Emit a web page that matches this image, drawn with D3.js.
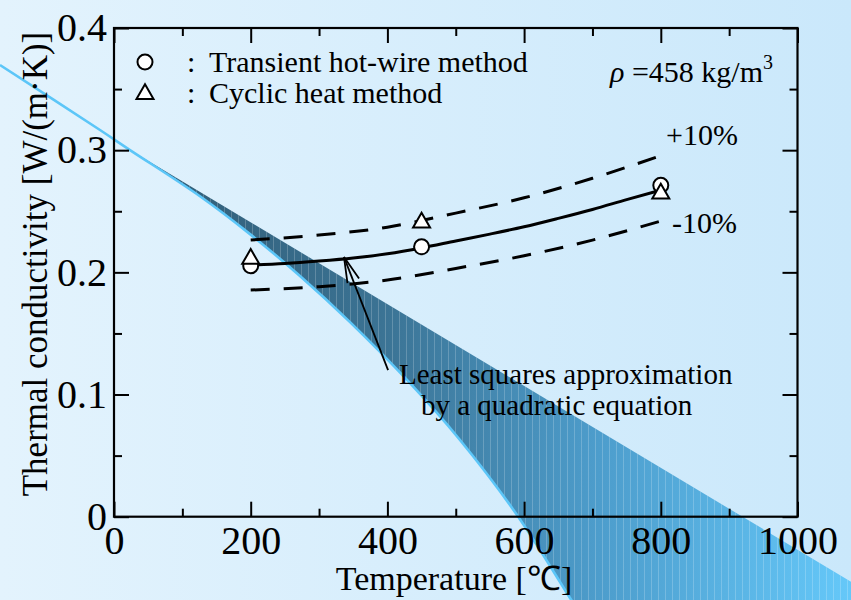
<!DOCTYPE html>
<html>
<head>
<meta charset="utf-8">
<script src="https://cdn.jsdelivr.net/npm/d3@7"></script>
<style>
  body { margin: 0; }
  svg { display: block; font-family: "Liberation Serif", "Times New Roman", serif; }
</style>
</head>
<body>
<div id="chart"></div>
<script>
/* Thermal conductivity vs temperature */

const xTicks = [0, 200, 400, 600, 800, 1000];
const yTicks = [0, 0.1, 0.2, 0.3, 0.4];

// least squares curve
const fitTemps = [200, 250, 300, 350, 400, 450, 500, 550, 600, 650, 700, 750, 800];
const fitValues = [0.2060, 0.2072, 0.2092, 0.2117, 0.2152, 0.2200, 0.2257, 0.2313, 0.2373, 0.2442, 0.2515, 0.2595, 0.2673];

// +10% / -10% band
const bandTemps = [200, 300, 400, 500, 600, 700, 800];
const plusTen = [0.2265, 0.2305, 0.2370, 0.2485, 0.2610, 0.2770, 0.2955];
const minusTen = [0.1855, 0.1883, 0.1937, 0.2032, 0.2136, 0.2264, 0.2420];

// measured points
const pointTemps = [200, 450, 800];
const hotWire = [0.2054, 0.2209, 0.2713];
const cyclicHeat = [0.2110, 0.2407, 0.2645];

// decorative stripe behind the plot (in data units)
const stripeTop = [[23.4, 0.3001], [1150, -0.0772]];
const stripeBottom = [[-166.8, 0.3697], [-20.5, 0.3165], [23.4, 0.3001], [125.8, 0.2623], [199, 0.2313],
                      [272.1, 0.1970], [345.3, 0.1593], [428.7, 0.1119], [506.2, 0.0628], [589.6, 0.0014],
                      [667.2, -0.0665], [705, -0.1]];

const width = 851,
      height = 600;

let svg = d3.select("#chart")
    .append("svg")
    .attr("width", width)
    .attr("height", height);

let defs = svg.append("defs");

let bg = defs.append("linearGradient").attr("id", "bg")
    .attr("x1", 0).attr("x2", 1).attr("y1", 0).attr("y2", 0);
bg.append("stop").attr("offset", 0).attr("stop-color", "#e3f3fd");
bg.append("stop").attr("offset", 1).attr("stop-color", "#cae8fb");

let band = defs.append("linearGradient").attr("id", "band")
    .attr("gradientUnits", "userSpaceOnUse")
    .attr("x1", 130).attr("x2", 851).attr("y1", 0).attr("y2", 0);
band.append("stop").attr("offset", 0).attr("stop-color", "#2f5a73");
band.append("stop").attr("offset", 0.35).attr("stop-color", "#3b7394");
band.append("stop").attr("offset", 0.65).attr("stop-color", "#4d9dcc");
band.append("stop").attr("offset", 1).attr("stop-color", "#65c8f9");

let stripes = defs.append("pattern").attr("id", "vlines")
    .attr("patternUnits", "userSpaceOnUse")
    .attr("width", 7).attr("height", 10);
stripes.append("rect").attr("width", 1).attr("height", 10).attr("fill", "#ffffff").attr("opacity", 0.2);

let arrowHead = defs.append("marker").attr("id", "arrow")
    .attr("markerUnits", "userSpaceOnUse")
    .attr("viewBox", "-30 -10 32 20")
    .attr("refX", 0).attr("refY", 0)
    .attr("markerWidth", 32).attr("markerHeight", 20)
    .attr("orient", "auto");
arrowHead.append("path")
    .attr("d", "M-25.5,-6.2 L0,0 L-25.5,6.2")
    .attr("fill", "none")
    .attr("stroke", "black")
    .attr("stroke-width", 1.8);

svg.append("rect")
    .attr("width", width).attr("height", height)
    .attr("fill", "url(#bg)");

let x = d3.scaleLinear()
    .domain([0, 1000])
    .range([114, 797.5]);

let y = d3.scaleLinear()
    .domain([0, 0.4])
    .range([516.7, 28]);

/* background stripe */
let bottomCurve = d3.line()
    .x(d => x(d[0]))
    .y(d => y(d[1]))
    .curve(d3.curveCatmullRom);

let inner = stripeBottom.filter(d => d[0] >= 23.4).slice().reverse();
let bandPath = "M" + x(stripeTop[0][0]) + "," + y(stripeTop[0][1])
    + "L" + x(stripeTop[1][0]) + "," + y(stripeTop[1][1])
    + "L" + x(stripeTop[1][0]) + "," + y(-0.1)
    + bottomCurve(inner).replace(/^M/, "L") + "Z";

svg.append("path")
    .attr("d", bandPath)
    .attr("fill", "url(#band)");

svg.append("path")
    .attr("d", bandPath)
    .attr("fill", "url(#vlines)");

svg.append("path")
    .attr("d", bottomCurve(stripeBottom))
    .attr("fill", "none")
    .attr("stroke", "#5cc6f8")
    .attr("stroke-width", 2.6);

/* axes */
const majorX = 15, minorX = 8;
const minorXTicks = d3.range(100, 1000, 200);
const minorYTicks = [0.05, 0.15, 0.25, 0.35];

function styleAxis(g) {
    g.selectAll("path").remove();
    g.selectAll("line").attr("stroke", "black").attr("stroke-width", 2);
}

svg.append("g")
    .attr("transform", `translate(0,${y(0)})`)
    .call(d3.axisBottom(x).tickValues(xTicks).tickSize(-majorX).tickPadding(9)
        .tickFormat(d => d))
    .call(styleAxis)
    .call(g => g.selectAll("text").attr("font-size", 40).attr("fill", "black")
        .attr("font-family", "Liberation Serif"));

svg.append("g")
    .attr("transform", `translate(0,${y(0)})`)
    .call(d3.axisBottom(x).tickValues(minorXTicks).tickSize(-minorX).tickFormat(""))
    .call(styleAxis);

svg.append("g")
    .attr("transform", `translate(0,${y(0.4)})`)
    .call(d3.axisTop(x).tickValues(xTicks).tickSize(-majorX).tickFormat(""))
    .call(styleAxis);

svg.append("g")
    .attr("transform", `translate(0,${y(0.4)})`)
    .call(d3.axisTop(x).tickValues(minorXTicks).tickSize(-minorX).tickFormat(""))
    .call(styleAxis);

svg.append("g")
    .attr("transform", `translate(${x(0)},0)`)
    .call(d3.axisLeft(y).tickValues(yTicks).tickSize(-majorX).tickPadding(7)
        .tickFormat(d => d === 0 ? "0" : d3.format(".1f")(d)))
    .call(styleAxis)
    .call(g => g.selectAll("text").attr("font-size", 40).attr("fill", "black")
        .attr("font-family", "Liberation Serif"));

svg.append("g")
    .attr("transform", `translate(${x(0)},0)`)
    .call(d3.axisLeft(y).tickValues(minorYTicks).tickSize(-minorX).tickFormat(""))
    .call(styleAxis);

svg.append("g")
    .attr("transform", `translate(${x(1000)},0)`)
    .call(d3.axisRight(y).tickValues(yTicks).tickSize(-majorX).tickFormat(""))
    .call(styleAxis);

svg.append("g")
    .attr("transform", `translate(${x(1000)},0)`)
    .call(d3.axisRight(y).tickValues(minorYTicks).tickSize(-minorX).tickFormat(""))
    .call(styleAxis);

svg.append("rect") // frame
    .attr("x", x(0)).attr("y", y(0.4))
    .attr("width", x(1000) - x(0)).attr("height", y(0) - y(0.4))
    .attr("fill", "none")
    .attr("stroke", "black")
    .attr("stroke-width", 2.2);

/* axis titles */
svg.append("text")
    .attr("x", 454).attr("y", 590)
    .attr("text-anchor", "middle")
    .attr("font-size", 34)
    .text("Temperature [℃]");

svg.append("text")
    .attr("transform", "translate(47,264) rotate(-90)")
    .attr("text-anchor", "middle")
    .attr("font-size", 35)
    .text("Thermal conductivity [W/(m·K)]");

/* curves */
let fitLine = d3.line()
    .x((d, i) => x(fitTemps[i]))
    .y(d => y(d))
    .curve(d3.curveMonotoneX);

let bandLine = d3.line()
    .x((d, i) => x(bandTemps[i]))
    .y(d => y(d))
    .curve(d3.curveMonotoneX);

for (let s of [plusTen, minusTen]) {
    svg.append("path")
        .attr("d", bandLine(s))
        .attr("fill", "none")
        .attr("stroke", "black")
        .attr("stroke-width", 3)
        .attr("stroke-dasharray", "19,14");
}

svg.append("path")
    .attr("d", fitLine(fitValues))
    .attr("fill", "none")
    .attr("stroke", "black")
    .attr("stroke-width", 3);

/* points */
svg.selectAll(".hw")
    .data(hotWire)
    .join("circle")
    .attr("class", "hw")
    .attr("cx", (d, i) => x(pointTemps[i]))
    .attr("cy", d => y(d))
    .attr("r", 7.5)
    .attr("fill", "white")
    .attr("stroke", "black")
    .attr("stroke-width", 2);

let tri = d3.symbol().type(d3.symbolTriangle).size(125);

svg.selectAll(".ch")
    .data(cyclicHeat)
    .join("path")
    .attr("class", "ch")
    .attr("d", tri)
    .attr("transform", (d, i) => `translate(${x(pointTemps[i])},${y(d)})`)
    .attr("fill", "white")
    .attr("stroke", "black")
    .attr("stroke-width", 2);

/* legend */
svg.append("circle")
    .attr("cx", 145).attr("cy", 62).attr("r", 7.5)
    .attr("fill", "white").attr("stroke", "black").attr("stroke-width", 2);
svg.append("path")
    .attr("d", tri)
    .attr("transform", "translate(145,94)")
    .attr("fill", "white").attr("stroke", "black").attr("stroke-width", 2);

const legendLabels = ["Transient hot-wire method", "Cyclic heat method"];
legendLabels.forEach((t, i) => {
    svg.append("text").attr("x", 187).attr("y", 72 + i * 31).attr("font-size", 30).text(":");
    svg.append("text").attr("x", 209).attr("y", 72 + i * 31).attr("font-size", 30).text(t);
});

let rho = svg.append("text")
    .attr("x", 610).attr("y", 82)
    .attr("font-size", 30);
rho.append("tspan").attr("font-style", "italic").text("ρ");
rho.append("tspan").text(" =458 kg/m");
rho.append("tspan").attr("font-size", 20).attr("dy", -13).text("3");

svg.append("text").attr("x", 666).attr("y", 145).attr("font-size", 30).text("+10%");
svg.append("text").attr("x", 672).attr("y", 233).attr("font-size", 30).text("-10%");

/* annotation */
svg.append("line")
    .attr("x1", x(401)).attr("y1", y(0.12))
    .attr("x2", x(336.5)).attr("y2", y(0.2125))
    .attr("stroke", "black")
    .attr("stroke-width", 1.8)
    .attr("marker-end", "url(#arrow)");

svg.append("text").attr("x", 399).attr("y", 384).attr("font-size", 29)
    .text("Least squares approximation");
svg.append("text").attr("x", 421).attr("y", 415).attr("font-size", 29)
    .text("by a quadratic equation");
</script>
</body>
</html>
